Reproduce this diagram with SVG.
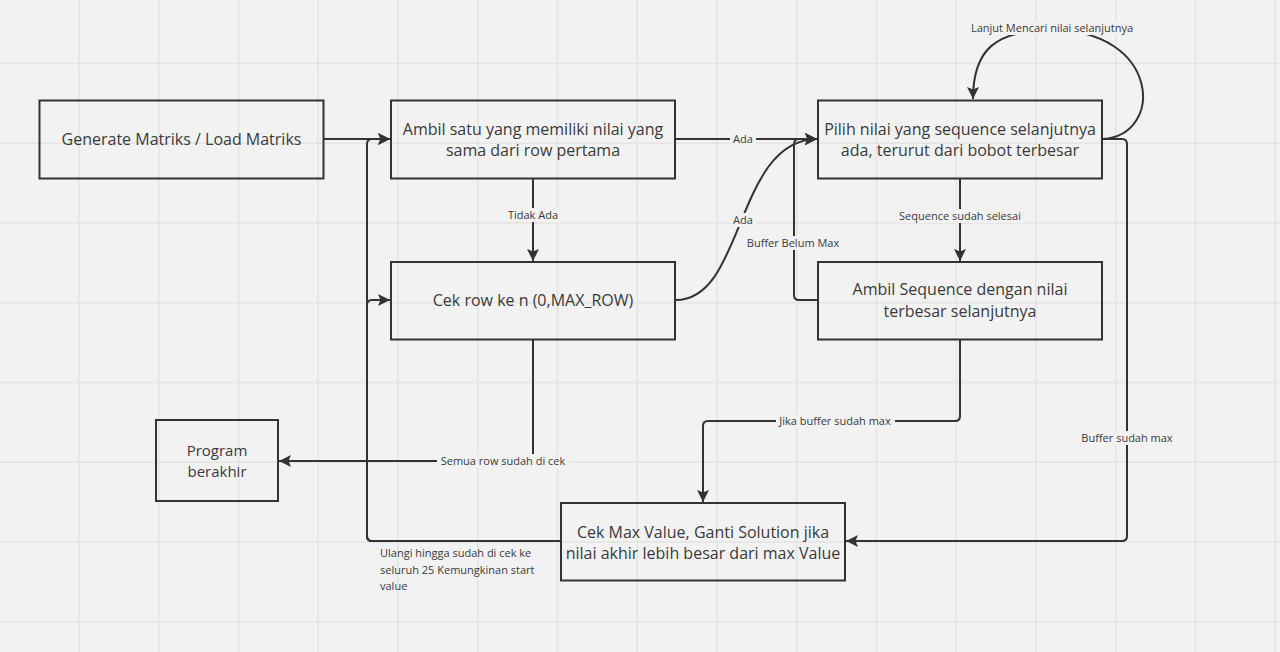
<svg xmlns="http://www.w3.org/2000/svg" width="1280" height="652" viewBox="0 0 1280 652">
<defs>
<style>
.bg{fill:#f2f2f2}
.grid{stroke:#e4e4e4;stroke-width:1.5;fill:none}
.box{fill:none;stroke:#333;stroke-width:2}
.nt{font-family:"Open Sans","Liberation Sans",sans-serif;font-size:16px;fill:#3a3a3a;text-anchor:middle}
.lb{font-family:"Open Sans","Liberation Sans",sans-serif;font-size:11px;fill:#3a3a3a;text-anchor:middle}
.lbl{font-family:"Open Sans","Liberation Sans",sans-serif;font-size:11px;fill:#3a3a3a}
.lbg{fill:#f2f2f2}
.c{fill:none;stroke:#333;stroke-width:2}
.ca{fill:none;stroke:#333;stroke-width:2;marker-end:url(#arr)}
</style>
<marker id="arr" markerUnits="userSpaceOnUse" markerWidth="14" markerHeight="14" refX="12" refY="6" orient="auto">
<path d="M0,0 L12,6 L0,12 L2.5,6 Z" fill="#333"/>
</marker>
</defs>
<rect class="bg" x="0" y="0" width="1280" height="652"/>
<path class="grid" d="M79,0V652M158.75,0V652M238.5,0V652M318.25,0V652M398,0V652M477.75,0V652M557.5,0V652M637.25,0V652M717,0V652M796.75,0V652M876.5,0V652M956.25,0V652M1036,0V652M1115.75,0V652M1195.5,0V652M1275.25,0V652M0,63.5H1280M0,143.25H1280M0,223H1280M0,302.75H1280M0,382.5H1280M0,462.25H1280M0,542H1280M0,621.75H1280"/>

<g id="connectors">
<path class="ca" d="M324,139 H390"/>
<path class="ca" d="M676,139 H817"/>
<path class="ca" d="M533,179 V261"/>
<path class="ca" d="M676,300 C745,300 735,140 817,139"/>
<path class="ca" d="M960,179 V261"/>
<path class="ca" d="M818,300 H799 Q794,300 794,295 V144 Q794,139 799,139 H817"/>
<path class="ca" d="M1103,139 C1165,135 1160,30 1052,30 C995,30 973,50 973,99"/>
<path class="ca" d="M1103,139 H1122 Q1127,139 1127,144 V536 Q1127,541 1122,541 H846"/>
<path class="ca" d="M960,340 V416 Q960,421 955,421 H708 Q703,421 703,426 V502"/>
<path class="ca" d="M533,340 V461 H279"/>
<path class="ca" d="M560,541 H372 Q367,541 367,536 V305 Q367,300 372,300 H390"/>
<path class="ca" d="M560,541 H372 Q367,541 367,536 V144 Q367,139 372,139 H390"/>

<rect class="lbg" x="730" y="132" width="26" height="14"/>
<text class="lb" x="743" y="143">Ada</text>
<rect class="lbg" x="505" y="208" width="56" height="14"/>
<text class="lb" x="533" y="219">Tidak Ada</text>
<rect class="lbg" x="731" y="213" width="25" height="14"/>
<text class="lb" x="743" y="224">Ada</text>
<rect class="lbg" x="745" y="236" width="97" height="14"/>
<text class="lb" x="793" y="247">Buffer Belum Max</text>
<rect class="lbg" x="896" y="209" width="128" height="14"/>
<text class="lb" x="960" y="220">Sequence sudah selesai</text>
<rect class="lbg" x="968" y="21" width="169" height="14"/>
<text class="lb" x="1052" y="32">Lanjut Mencari nilai selanjutnya</text>
<rect class="lbg" x="1079" y="431" width="96" height="14"/>
<text class="lb" x="1127" y="442">Buffer sudah max</text>
<rect class="lbg" x="776" y="414" width="119" height="14"/>
<text class="lb" x="835" y="425">Jika buffer sudah max</text>
<rect class="lbg" x="437" y="454" width="132" height="14"/>
<text class="lb" x="503" y="465">Semua row sudah di cek</text>
<text class="lbl" x="380" y="557">Ulangi hingga sudah di cek ke</text>
<text class="lbl" x="380" y="574">seluruh 25 Kemungkinan start</text>
<text class="lbl" x="380" y="590">value</text>
</g>

<g id="n-generate">
<rect class="box" x="39.5" y="100.5" width="284" height="78"/>
<text class="nt" x="181.5" y="145">Generate Matriks / Load Matriks</text>
</g>
<g id="n-ambil-satu">
<rect class="box" x="391" y="100.5" width="284" height="78"/>
<text class="nt" x="533" y="134.5">Ambil satu yang memiliki nilai yang</text>
<text class="nt" x="533" y="156">sama dari row pertama</text>
</g>
<g id="n-pilih">
<rect class="box" x="818" y="100.5" width="284" height="78"/>
<text class="nt" x="960" y="134.5">Pilih nilai yang sequence selanjutnya</text>
<text class="nt" x="960" y="156">ada, terurut dari bobot terbesar</text>
</g>
<g id="n-cek-row">
<rect class="box" x="391" y="262" width="284" height="77.5"/>
<text class="nt" x="533" y="306">Cek row ke n (0,MAX_ROW)</text>
</g>
<g id="n-ambil-seq">
<rect class="box" x="818" y="262" width="284" height="77.5"/>
<text class="nt" x="960" y="295">Ambil Sequence dengan nilai</text>
<text class="nt" x="960" y="316.5">terbesar selanjutnya</text>
</g>
<g id="n-program">
<rect class="box" x="156" y="420" width="122" height="81"/>
<text class="nt" x="217" y="456" style="font-size:15px">Program</text>
<text class="nt" x="217" y="476.5" style="font-size:15px">berakhir</text>
</g>
<g id="n-cek-max">
<rect class="box" x="561" y="503" width="284" height="77.5"/>
<text class="nt" x="703" y="537.5">Cek Max Value, Ganti Solution jika</text>
<text class="nt" x="703" y="559">nilai akhir lebih besar dari max Value</text>
</g>
</svg>
